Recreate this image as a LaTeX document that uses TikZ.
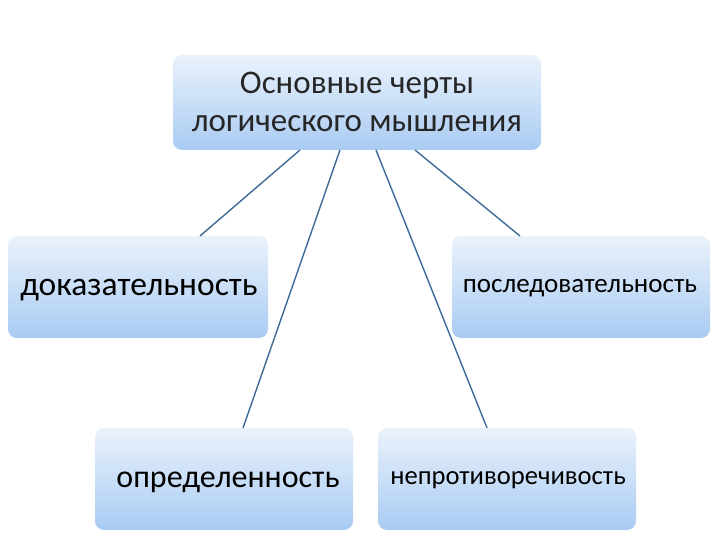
\documentclass[tikz,border=0pt]{standalone}
\usepackage{fontspec}
\setmainfont{Carlito}
\definecolor{topc}{HTML}{EAF2FC}
\definecolor{botc}{HTML}{A9CBF2}
\definecolor{linec}{HTML}{3E6A98}
\begin{document}
\begin{tikzpicture}[x=1pt,y=-1pt,
  box/.style={rounded corners=9pt,top color=topc,bottom color=botc,draw=none},
  link/.style={draw=linec,line width=1.4pt}]
\useasboundingbox (0,0) rectangle (720,540);
\shade[box] (173,55) rectangle (541,150);
\node[align=center,text=black!85,font=\fontsize{33}{38}\selectfont] (top) at (357,102) {Основные черты\\логического мышления};
\shade[box] (8,236) rectangle (268,338);
\node[font=\fontsize{33.5}{38}\selectfont] (a) at (139,290) {доказательность};
\shade[box] (452,236) rectangle (710,338);
\node[font=\fontsize{27}{32}\selectfont] (b) at (580,288) {последовательность};
\shade[box] (95,428) rectangle (353,530);
\node[font=\fontsize{32}{38}\selectfont] (c) at (228,482) {определенность};
\shade[box] (378,428) rectangle (636,530);
\node[font=\fontsize{26.6}{32}\selectfont] (d) at (508,480) {непротиворечивость};
\coordinate (t1) at (300,150); \coordinate (t2) at (340,150);
\coordinate (t3) at (376,150); \coordinate (t4) at (415,150);
\coordinate (e1) at (200,236); \coordinate (e2) at (243,428);
\coordinate (e3) at (487,428); \coordinate (e4) at (520,236);
\draw[link] (t1) -- (e1); \draw[link] (t2) -- (e2);
\draw[link] (t3) -- (e3); \draw[link] (t4) -- (e4);
\end{tikzpicture}
\end{document}
